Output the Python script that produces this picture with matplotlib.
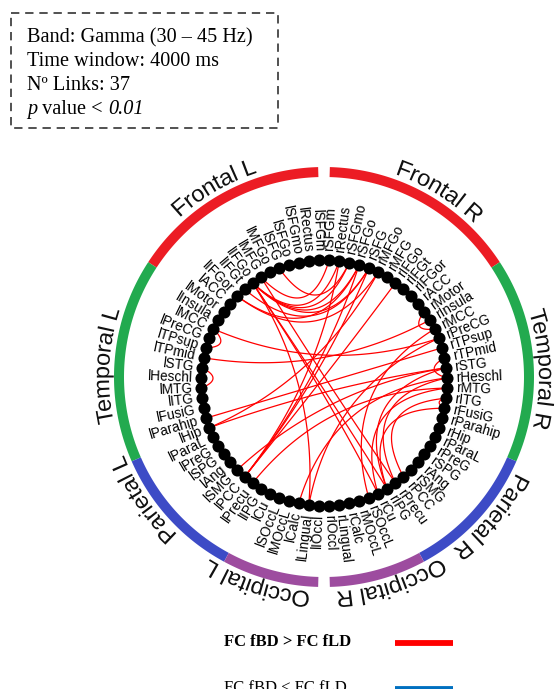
import numpy as np
import matplotlib
matplotlib.use("Agg")
import matplotlib.pyplot as plt
from matplotlib.patches import Polygon, Rectangle, PathPatch
from matplotlib.path import Path
from matplotlib.textpath import TextPath
from matplotlib.font_manager import FontProperties

# ---- data -------------------------------------------------------------
regions = ["SFGm", "Rectus", "SFGmo", "SFGo", "SFG", "MFGo", "MFG", "IFGo",
           "IFGt", "IFGor", "ACC", "Motor", "Insula", "MCC", "PreCG", "TPsup",
           "TPmid", "STG", "Heschl", "MTG", "ITG", "FusiG", "Parahip", "Hip",
           "ParaL", "PreG", "SPG", "Ang", "SMG", "PCC", "Precu", "IPG", "Cu",
           "SOccL", "MOccL", "Calc", "Lingual", "IOccl"]
left_labels = ["l" + r for r in regions]
right_labels = ["r" + r for r in regions]

lobe_names = ["Frontal", "Temporal", "Parietal", "Occipital"]
lobe_sizes = [12, 12, 8, 6]
lobe_colors = ["#ec1c24", "#22aa4f", "#3d4bc6", "#9d4c9f"]
lobe_label_angles_L = [120, 177, 214, 252]
lobe_label_angles_R = [58, 2, -40, -72]

links = [
    ("lIFGo", "rRectus"), ("lIFGo", "rSFGmo"), ("lIFGo", "rSFGo"),
    ("lIFGo", "rSFG"), ("lMFG", "rSFGm"), ("lSFG", "rSFGmo"),
    ("lIFGor", "rSFGo"), ("lIFGor", "rMFGo"), ("lIFGt", "rSFG"),
    ("lIFGo", "lLingual"), ("lIFGo", "rCu"), ("lIFGo", "rIPG"),
    ("lMFG", "rPrecu"), ("rIFGo", "lPCC"), ("rSFG", "lPCC"),
    ("rSFGo", "lPCC"), ("rRectus", "lPCC"), ("lHip", "rMFGo"),
    ("lParahip", "rTPsup"), ("lHip", "rSTG"), ("lMCC", "rPreCG"),
    ("lTPmid", "rInsula"), ("lSTG", "lMTG"), ("lMCC", "lTPsup"),
    ("rMotor", "rMCC"), ("rMCC", "rSOccL"), ("rSTG", "rIPG"),
    ("rHeschl", "rPrecu"), ("rMTG", "rCu"), ("rITG", "rFusiG"),
    ("rITG", "rPCC"), ("rFusiG", "rIPG"), ("rHeschl", "lCalc"),
    ("rMTG", "lPrecu"), ("rSTG", "lSMG"), ("rPreCG", "lLingual"),
    ("rTPmid", "rHeschl"),
]

info_lines = [
    [("Band: Gamma (30 \u2013 45 Hz)", "normal")],
    [("Time window: 4000 ms", "normal")],
    [("N\u00ba Links: 37", "normal")],
    [("p", "italic"), (" value < ", "normal"), ("0.01", "italic")],
]
legend_items = [("FC fBD > FC fLD", "#ff0000", "bold"),
                ("FC fBD < FC fLD", "#0070c0", "normal")]

# ---- geometry (pixel coordinates, y pointing down) --------------------
W, H = 560, 689
ncx, ncy, nr = 324, 383, 123          # node circle
rcx, rcy = 324, 377                   # lobe ring
ring_in, ring_out = 200, 210
label_r = 132
step = 180.0 / len(regions)
half_gap = 1.6


def pt(cx, cy, r, deg):
    a = np.deg2rad(deg)
    return cx + r * np.cos(a), cy - r * np.sin(a)


def node_angle(name):
    i = regions.index(name[1:])
    return 90 + step * (i + 0.5) if name[0] == "l" else 90 - step * (i + 0.5)


fig = plt.figure(figsize=(W / 100, H / 100), dpi=100)
ax = fig.add_axes([0, 0, 1, 1])
ax.set_xlim(0, W)
ax.set_ylim(H, 0)
ax.axis("off")

# ---- lobe ring --------------------------------------------------------
for side in (1, -1):
    start = 0
    for k, n in enumerate(lobe_sizes):
        a1 = 90 + side * step * start
        a2 = 90 + side * step * (start + n)
        if start == 0:
            a1 = 90 + side * half_gap
        if start + n == len(regions):
            a2 = 270 - side * half_gap if side == 1 else -90 + half_gap
        angs = np.linspace(a1, a2, 60)
        outer = [pt(rcx, rcy, ring_out, a) for a in angs]
        inner = [pt(rcx, rcy, ring_in, a) for a in angs[::-1]]
        ax.add_patch(Polygon(outer + inner, closed=True,
                             facecolor=lobe_colors[k], edgecolor="none"))
        start += n

# ---- curved lobe names ------------------------------------------------
fp = FontProperties(family="Liberation Sans")
base_r = 215


def curved_text(s, center_deg):
    tp = TextPath((0, 0), s, size=23, prop=fp)
    ext = tp.get_extents()
    v = tp.vertices.copy()
    u = v[:, 0] - (ext.x0 + ext.x1) / 2
    h = v[:, 1]
    ang = np.deg2rad(center_deg) - u / base_r
    rr = base_r + h
    x = rcx + rr * np.cos(ang)
    y = rcy - rr * np.sin(ang)
    ax.add_patch(PathPatch(Path(np.column_stack([x, y]), tp.codes),
                           facecolor="#111111", edgecolor="none"))


for k, name in enumerate(lobe_names):
    curved_text(name + " L", lobe_label_angles_L[k])
    curved_text(name + " R", lobe_label_angles_R[k])

# ---- links ------------------------------------------------------------
for a, b in links:
    ta, tb = node_angle(a), node_angle(b)
    p0 = np.array([np.cos(np.deg2rad(ta)), np.sin(np.deg2rad(ta))]) * nr
    p2 = np.array([np.cos(np.deg2rad(tb)), np.sin(np.deg2rad(tb))]) * nr
    d = abs((ta - tb + 180) % 360 - 180)
    m = p0 + p2
    nm = np.linalg.norm(m)
    c = m / nm * nr * np.exp(-d / 45) if nm > 1e-6 else np.zeros(2)
    t = np.linspace(0, 1, 120)[:, None]
    curve = (1 - t) ** 2 * p0 + 2 * (1 - t) * t * c + t ** 2 * p2
    ax.plot(ncx + curve[:, 0], ncy - curve[:, 1], color="#ff0000", lw=0.9,
            solid_capstyle="round", zorder=2)

# ---- nodes and labels -------------------------------------------------
for labels in (left_labels, right_labels):
    for name in labels:
        th = node_angle(name)
        x, y = pt(ncx, ncy, nr, th)
        ax.scatter([x], [y], s=76, color="black", zorder=3, linewidths=0)
        lx, ly = pt(ncx, ncy, label_r, th)
        if name[0] == "l":
            ax.text(lx, ly, name, rotation=th - 180, rotation_mode="anchor",
                    ha="right", va="center", fontsize=9.8,
                    family="Liberation Sans")
        else:
            ax.text(lx, ly, name, rotation=th, rotation_mode="anchor",
                    ha="left", va="center", fontsize=9.8,
                    family="Liberation Sans")

# ---- info box ---------------------------------------------------------
ax.add_patch(Rectangle((11, 13), 267, 115, fill=False, edgecolor="#333333",
                       lw=1.2, linestyle=(0, (5, 3.5))))
renderer = fig.canvas.get_renderer()
for j, parts in enumerate(info_lines):
    x0 = 27.0
    for txt, style in parts:
        t = ax.text(x0, 42 + 24 * j, txt, fontsize=14.6,
                    family="Liberation Serif", style=style,
                    va="baseline", ha="left")
        bb = t.get_window_extent(renderer=renderer)
        x0 += bb.width

# ---- legend -----------------------------------------------------------
for j, (txt, col, wt) in enumerate(legend_items):
    yb = 646 + 46 * j
    ax.text(224, yb, txt, fontsize=12, family="Liberation Serif",
            weight=wt, va="baseline", ha="left")
    ax.plot([395, 453], [yb - 3.5, yb - 3.5], color=col, lw=4.2,
            solid_capstyle="butt")

fig.savefig("out.png", dpi=100, facecolor="white")
